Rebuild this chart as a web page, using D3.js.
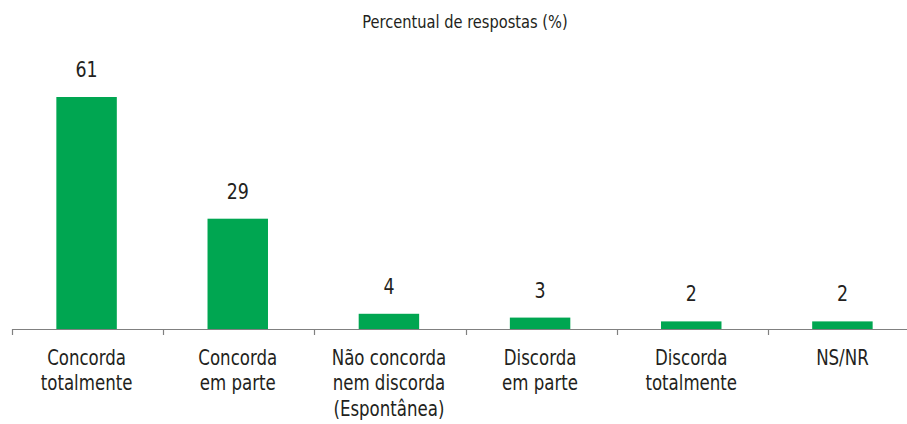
<!doctype html>
<html>
<head>
<meta charset="utf-8">
<style>
  body { margin: 0; background: #fff; }
  svg text { font-family: "Liberation Sans Narrow", "DejaVu Sans Condensed", "Roboto", sans-serif; fill: #231f20; }
</style>
<script src="https://d3js.org/d3.v7.min.js"></script>
</head>
<body>
<svg width="907" height="424"></svg>
<script>
var categories = ["Concorda totalmente", "Concorda em parte", "Não concorda nem discorda (Espontânea)",
                  "Discorda em parte", "Discorda totalmente", "NS/NR"];
var labelLines = [["Concorda", "totalmente"], ["Concorda", "em parte"], ["Não concorda", "nem discorda", "(Espontânea)"],
                  ["Discorda", "em parte"], ["Discorda", "totalmente"], ["NS/NR"]];
var values = [61, 29, 4, 3, 2, 2];
var title = "Percentual de respostas (%)";

var svg = d3.select("svg"),
    baseY = 329,
    squeeze = 0.88; // no condensed font installed, so narrow the text a bit

var x = d3.scaleBand().domain(categories).range([12, 919]);
var y = d3.scaleLinear().domain([0, 61]).range([baseY, 97]);
var barW = x.bandwidth() * 0.4;
function cx(i) { return x(categories[i]) + x.bandwidth() / 2 - 1; }

svg.append("g")
   .attr("transform", "translate(465,28) scale(" + squeeze + ",1)")
   .append("text")
   .attr("text-anchor", "middle")
   .attr("font-size", "18.5px")
   .text(title);

// axis line + ticks at band edges
svg.append("line")
   .attr("x1", 12).attr("x2", 907)
   .attr("y1", baseY + 0.5).attr("y2", baseY + 0.5)
   .attr("stroke", "#808080").attr("stroke-width", 1.2);

svg.selectAll(".tick")
   .data(categories)
   .enter().append("line")
   .attr("x1", function(d) { return Math.round(x(d)) + 0.5; })
   .attr("x2", function(d) { return Math.round(x(d)) + 0.5; })
   .attr("y1", baseY).attr("y2", baseY + 6)
   .attr("stroke", "#808080").attr("stroke-width", 1.2);

svg.selectAll(".bar")
   .data(values)
   .enter().append("rect")
   .attr("fill", "#00a651")
   .attr("x", function(d, i) { return cx(i) - barW / 2; })
   .attr("width", barW)
   .attr("y", function(d) { return y(d); })
   .attr("height", function(d) { return baseY - y(d); });

svg.selectAll(".val")
   .data(values)
   .enter().append("g")
   .attr("transform", function(d, i) { return "translate(" + cx(i) + "," + (y(d) - 20) + ") scale(" + squeeze + ",1)"; })
   .append("text")
   .attr("text-anchor", "middle")
   .attr("font-size", "22px")
   .text(function(d) { return d; });

var lab = svg.selectAll(".lab")
   .data(labelLines)
   .enter().append("g")
   .attr("transform", function(d, i) { return "translate(" + cx(i) + ",365) scale(" + squeeze + ",1)"; })
   .append("text")
   .attr("text-anchor", "middle")
   .attr("font-size", "21px");

lab.selectAll("tspan")
   .data(function(d) { return d; })
   .enter().append("tspan")
   .attr("x", 0)
   .attr("dy", function(d, i) { return i === 0 ? 0 : 25.5; })
   .text(function(d) { return d; });
</script>
</body>
</html>
